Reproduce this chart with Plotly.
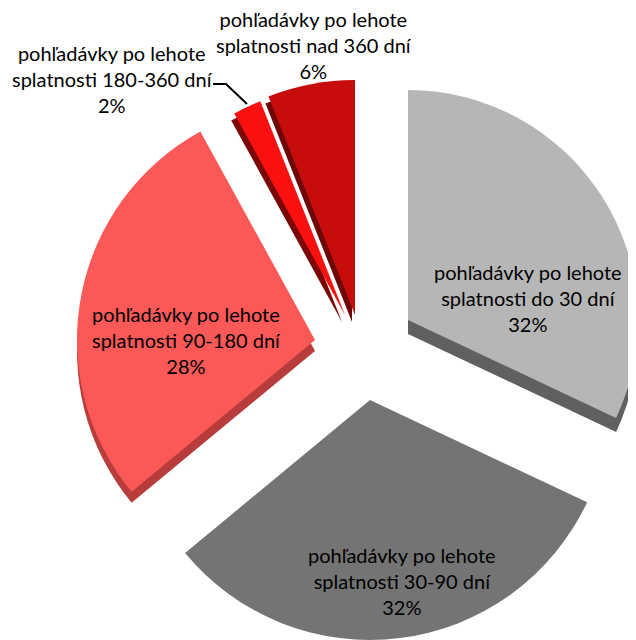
import plotly.graph_objects as go

categories = ["pohľadávky po lehote<br>splatnosti do 30 dní",
              "pohľadávky po lehote<br>splatnosti 30-90 dní",
              "pohľadávky po lehote<br>splatnosti 90-180 dní",
              "pohľadávky po lehote<br>splatnosti 180-360 dní",
              "pohľadávky po lehote<br>splatnosti nad 360 dní"]
values = [32, 32, 28, 2, 6]
colors = ["#b6b6b6", "#747474", "#fb5858", "#fb1010", "#c70c0c"]
side_colors = ["#606060", "#747474", "#b83c3c", "#7a0606", "#6e0606"]
# Position of each exploded slice in window pixels: tip x, tip y, radius
slice_geom = [(408, 320, 230), (370, 400, 240), (315, 340, 238), (345, 315, 230), (355, 315, 235)]
depth = [(0, 14), (0, 0), (0, 11), (-3, 7), (-3, 7)]
label_xy = [(528, 298), (402, 581), (186, 340), (112, 79), (314, 45)]

W, H = 636, 640
PAGE_MARGIN = 8  # the browser's default body margin shifts the figure
TRANSPARENT = "rgba(0,0,0,0)"


def px(x):
    return (x - PAGE_MARGIN) / W


def py(y):
    return 1 - (y - PAGE_MARGIN) / H


def dom(ax, ay, r):
    return dict(x=[max(0, px(ax - r)), min(1, px(ax + r))],
                y=[max(0, py(ay + r)), min(1, py(ay - r))])


def slice_trace(i, color, dx=0, dy=0):
    ax, ay, r = slice_geom[i]
    cols = [TRANSPARENT] * len(values)
    cols[i] = color
    return go.Pie(labels=categories, values=values, sort=False, direction="clockwise",
                  rotation=0, textinfo="none", hoverinfo="skip",
                  marker=dict(colors=cols, line=dict(width=0)),
                  domain=dom(ax + dx, ay + dy, r), showlegend=False)


fig = go.Figure()
for i in range(len(values)):
    if depth[i] != (0, 0):
        fig.add_trace(slice_trace(i, side_colors[i], *depth[i]))
for i in range(len(values)):
    fig.add_trace(slice_trace(i, colors[i]))

for (x, y), cat, v in zip(label_xy, categories, values):
    fig.add_annotation(x=px(x), y=py(y), xref="paper", yref="paper", showarrow=False,
                       xanchor="center", yanchor="middle",
                       text=f"{cat}<br>{v}%", align="center",
                       font=dict(family="Lato", size=20, color="#000000"))

# leader line of the 2% label
pts = [(213, 84), (226, 84), (247, 104)]
path = "M " + " L ".join(f"{px(x)} {py(y)}" for x, y in pts)
fig.add_shape(type="path", path=path, xref="paper", yref="paper",
              line=dict(color="#000000", width=2))

fig.update_layout(width=W, height=H, margin=dict(l=0, r=0, t=0, b=0),
                  paper_bgcolor="white", plot_bgcolor="white")
fig.write_html("out.html")
